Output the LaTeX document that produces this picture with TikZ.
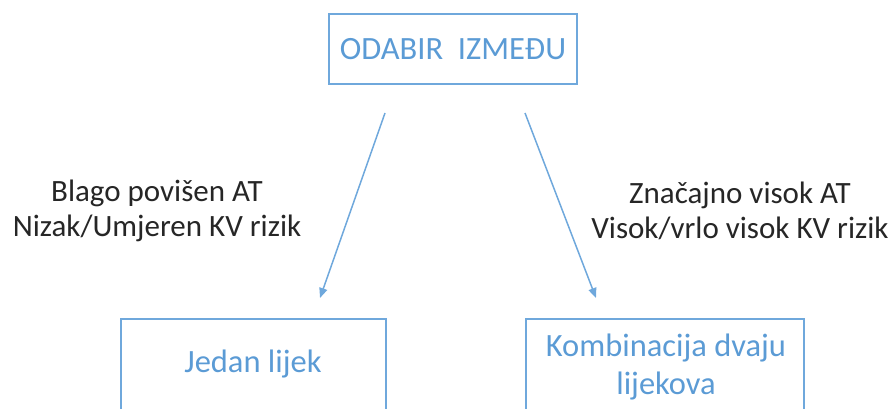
\documentclass[tikz,border=0pt]{standalone}
\usepackage{fontspec}
\setmainfont{Carlito}
\usetikzlibrary{arrows.meta}
\definecolor{boxblue}{HTML}{6FA8DC}
\definecolor{txtblue}{HTML}{5B9BD5}
\definecolor{txtdark}{HTML}{262626}
\tikzset{
  boxshape/.style={draw=boxblue, line width=1.8pt, rectangle, inner sep=0pt},
  boxtext/.style={text=txtblue, font=\fontsize{32.5}{38}\selectfont, align=center, inner sep=0pt},
  lbltext/.style={text=txtdark, font=\fontsize{31}{35}\selectfont, align=center, inner sep=0pt},
  link/.style={draw=boxblue, line width=1.5pt, -{Triangle[length=10pt,width=8pt]}}
}
\begin{document}
\begin{tikzpicture}[x=1pt,y=-1pt]
\useasboundingbox (0,0) rectangle (894,409);
\clip (0,0) rectangle (894,409);
\node[boxshape, minimum width=248pt, minimum height=70pt] (top) at (453,49) {};
\node[boxtext] (toptext) at (453,49) {ODABIR\ \ IZMEĐU};
\node[boxshape, minimum width=265pt, minimum height=160pt, anchor=north west] (left) at (120,318) {};
\node[boxshape, minimum width=278pt, minimum height=160pt, anchor=north west] (right) at (525,318) {};
\node[boxtext] (lefttext) at (253,364) {Jedan lijek};
\node[boxtext] (righttext) at (666,367) {Kombinacija dvaju\\lijekova};
\node[lbltext] (llabel) at (157,211) {Blago povišen AT\\Nizak/Umjeren KV rizik};
\node[lbltext] (rlabel) at (740,211) {Značajno visok AT\\Visok/vrlo visok KV rizik};
\coordinate (ls) at (385,113);
\coordinate (le) at (320,298);
\coordinate (rs) at (525,113);
\coordinate (re) at (596,298);
\draw[link] (ls) -- (le);
\draw[link] (rs) -- (re);
\end{tikzpicture}
\end{document}
